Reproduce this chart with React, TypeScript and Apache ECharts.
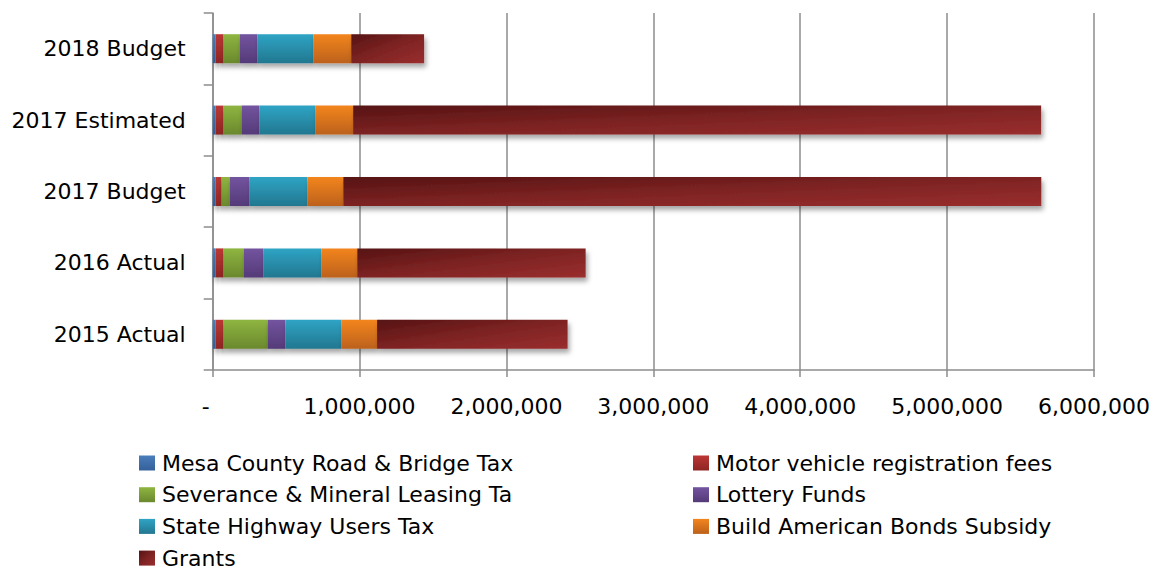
import React, { useEffect, useRef } from "react";
import * as echarts from "echarts";

const categories = ["2015 Actual", "2016 Actual", "2017 Budget", "2017 Estimated", "2018 Budget"];
const seriesNames = [
  "Mesa County Road & Bridge Tax",
  "Motor vehicle registration fees",
  "Severance & Mineral Leasing Ta",
  "Lottery Funds",
  "State Highway Users Tax",
  "Build American Bonds Subsidy",
  "Grants",
];
const mesaTax = [20000, 20000, 20000, 20000, 20000];
const motorFees = [54000, 54000, 41000, 54000, 54000];
const severance = [299000, 136000, 54000, 122000, 109000];
const lottery = [122000, 136000, 136000, 122000, 122000];
const highwayTax = [380000, 394000, 394000, 380000, 380000];
const bondsSubsidy = [244000, 244000, 244000, 258000, 258000];
const grants = [1297000, 1555000, 4752000, 4684000, 496000];
const xTicks = [0, 1000000, 2000000, 3000000, 4000000, 5000000, 6000000];

const seriesValues = [mesaTax, motorFees, severance, lottery, highwayTax, bondsSubsidy, grants];
const FONT = "'DejaVu Sans', sans-serif";
const FS = 22;

const vgrad = (top: string, bottom: string) =>
  new echarts.graphic.LinearGradient(0, 0, 0, 1, [
    { offset: 0, color: top },
    { offset: 1, color: bottom },
  ]);

const colors = [
  vgrad("#4A7EBB", "#34609A"),
  vgrad("#BC3734", "#8E2523"),
  vgrad("#8FB541", "#6A882D"),
  vgrad("#73549F", "#543A78"),
  vgrad("#2FA4C5", "#22778F"),
  vgrad("#F3851F", "#BC611A"),
  new echarts.graphic.LinearGradient(0, 0, 1, 1, [
    { offset: 0, color: "#561313" },
    { offset: 0.5, color: "#7E2323" },
    { offset: 1, color: "#9A2E2E" },
  ]),
];

export default function App() {
  const ref = useRef<HTMLDivElement>(null);
  useEffect(() => {
    if (!ref.current) return;
    const chart = echarts.init(ref.current, undefined, { renderer: "svg" });
    const series = seriesNames.map((name, i) => ({
      name,
      type: "bar",
      stack: "total",
      barWidth: 29,
      data: seriesValues[i],
      itemStyle: {
        color: colors[i],
        shadowBlur: 5,
        shadowColor: "rgba(0,0,0,0.35)",
        shadowOffsetX: 2,
        shadowOffsetY: 4,
      },
      emphasis: { disabled: true },
    }));
    const legendCommon = {
      orient: "vertical",
      icon: "rect",
      itemWidth: 16,
      itemHeight: 15,
      itemGap: 9.7,
      padding: 0,
      height: 118,
      selectedMode: false,
      textStyle: { fontFamily: FONT, fontSize: FS, color: "#000", padding: [0, 0, 0, 2] },
    };
    chart.setOption({
      animation: false,
      backgroundColor: "#fff",
      grid: { left: 212.7, right: 1153 - 1097.7, top: 13, bottom: 200, containLabel: false },
      xAxis: {
        type: "value",
        min: xTicks[0],
        max: xTicks[xTicks.length - 1],
        interval: 1000000,
        axisLine: { show: true, lineStyle: { color: "#8C8C8C", width: 1.5 } },
        axisTick: { show: true, length: 7, lineStyle: { color: "#8C8C8C", width: 1.5 } },
        splitLine: { show: true, lineStyle: { color: "#8C8C8C", width: 1.5 } },
        axisLabel: {
          margin: 25.5,
          fontFamily: FONT,
          fontSize: FS,
          color: "#000",
          formatter: (v: number) => (v === 0 ? "{d|-}" : v.toLocaleString("en-US")),
          rich: { d: { fontFamily: FONT, fontSize: FS, color: "#000", padding: [0, 14, 0, 0] } },
        },
      },
      yAxis: {
        type: "category",
        data: categories,
        axisLine: { show: true, lineStyle: { color: "#8C8C8C", width: 1.5 } },
        axisTick: { show: true, length: 9, lineStyle: { color: "#8C8C8C", width: 1.5 } },
        splitLine: { show: false },
        axisLabel: { margin: 27, fontFamily: FONT, fontSize: FS, color: "#000" },
      },
      legend: [
        {
          ...legendCommon,
          left: 139,
          top: 452,
          data: [seriesNames[0], seriesNames[2], seriesNames[4], seriesNames[6]],
        },
        {
          ...legendCommon,
          left: 693,
          top: 452,
          data: [seriesNames[1], seriesNames[3], seriesNames[5]],
        },
      ],
      series,
    });
    return () => chart.dispose();
  }, []);
  return (
    <div
      ref={ref}
      style={{ position: "fixed", left: 0, top: 0, width: 1153, height: 570 }}
    />
  );
}
